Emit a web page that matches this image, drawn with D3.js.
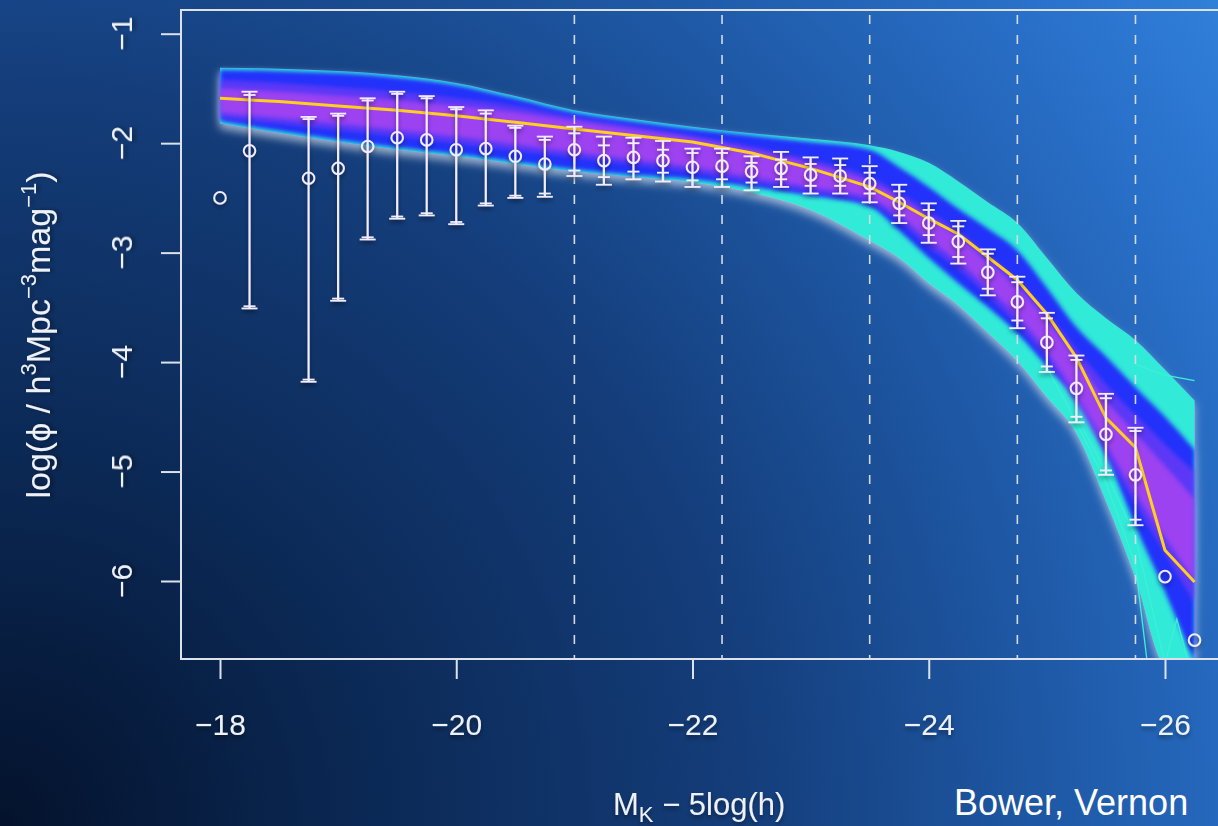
<!DOCTYPE html>
<html><head><meta charset="utf-8">
<script src="https://cdn.jsdelivr.net/npm/d3@7"></script>
<style>html,body{margin:0;padding:0;background:#0b2a58;overflow:hidden}</style>
</head><body><svg id="c" width="1218" height="826"></svg>
<script>
// ---- tick labels / reference lines ----
const xTicks = [-18, -20, -22, -24, -26];
const yTicks = [-1, -2, -3, -4, -5, -6];
const dashedX = [-21, -22.25, -23.5, -24.75, -25.75];

// ---- model ensemble envelope (log phi) ----
const modelX   = [-18,-18.5,-19,-19.5,-20,-20.5,-21,-21.5,-22,-22.5,-23,-23.5,-23.75,-24,-24.25,-24.5,-24.75,-25,-25.25,-25.5,-25.75,-26,-26.25];
const outerHi  = [-1.31,-1.32,-1.34,-1.38,-1.45,-1.57,-1.70,-1.78,-1.85,-1.91,-1.96,-2.02,-2.08,-2.18,-2.35,-2.54,-2.73,-3.05,-3.37,-3.60,-3.80,-4.07,-4.35];
const blueHi   = [-1.33,-1.34,-1.36,-1.40,-1.47,-1.59,-1.72,-1.80,-1.87,-1.93,-1.99,-2.06,-2.22,-2.40,-2.60,-2.78,-2.98,-3.32,-3.68,-3.95,-4.23,-4.50,-4.80];
const magHi    = [-1.42,-1.45,-1.49,-1.53,-1.59,-1.66,-1.76,-1.84,-1.93,-2.03,-2.15,-2.31,-2.45,-2.62,-2.80,-3.02,-3.25,-3.55,-3.88,-4.20,-4.48,-4.75,-5.00];
const coreHi   = [-1.50,-1.53,-1.57,-1.61,-1.66,-1.72,-1.80,-1.88,-1.96,-2.07,-2.19,-2.36,-2.50,-2.68,-2.86,-3.08,-3.32,-3.62,-3.98,-4.35,-4.65,-4.95,-5.25];
const coreLo   = [-1.72,-1.77,-1.82,-1.88,-1.94,-2.01,-2.08,-2.15,-2.22,-2.31,-2.40,-2.50,-2.66,-2.88,-3.08,-3.32,-3.58,-3.90,-4.30,-4.75,-5.20,-5.60,-6.00];
const magLo    = [-1.77,-1.82,-1.88,-1.94,-2.00,-2.07,-2.13,-2.20,-2.27,-2.36,-2.45,-2.55,-2.72,-2.95,-3.15,-3.40,-3.66,-3.98,-4.40,-4.85,-5.30,-5.75,-6.20];
const blueLo   = [-1.80,-1.89,-1.97,-2.04,-2.10,-2.17,-2.24,-2.29,-2.33,-2.40,-2.48,-2.58,-2.80,-3.05,-3.28,-3.50,-3.74,-4.04,-4.35,-4.85,-5.50,-6.10,-6.75];
const outerLo  = [-1.82,-1.91,-1.99,-2.06,-2.12,-2.19,-2.26,-2.31,-2.36,-2.45,-2.61,-2.89,-3.05,-3.28,-3.48,-3.73,-3.99,-4.32,-4.65,-5.27,-5.97,-6.75,-6.75];
const bestFit  = [-1.59,-1.62,-1.66,-1.70,-1.75,-1.81,-1.87,-1.93,-1.99,-2.09,-2.23,-2.40,-2.54,-2.69,-2.83,-3.04,-3.25,-3.56,-3.96,-4.51,-4.78,-5.72,-6.01];

// thin stray model runs at the faint end
const strandAX = [-25.0,-25.25,-25.5,-25.75,-25.85];
const strandAY = [-4.05,-4.55,-5.10,-5.85,-6.75];
const strandBX = [-25.25,-25.5,-25.75,-26.0,-26.1,-26.2];
const strandBY = [-4.50,-5.00,-5.60,-6.75,-6.35,-6.75];
const strandCX = [-25.75,-26.0,-26.25];
const strandCY = [-4.02,-4.12,-4.17];

// ---- observed luminosity function ----
const obsX = [-18,-18.25,-18.75,-19,-19.25,-19.5,-19.75,-20,-20.25,-20.5,-20.75,-21,-21.25,-21.5,-21.75,-22,-22.25,-22.5,-22.75,-23,-23.25,-23.5,-23.75,-24,-24.25,-24.5,-24.75,-25,-25.25,-25.5,-25.75,-26,-26.25];
const obsY = [-2.50,-2.07,-2.32,-2.23,-2.03,-1.95,-1.97,-2.06,-2.05,-2.12,-2.19,-2.06,-2.16,-2.13,-2.16,-2.22,-2.21,-2.26,-2.23,-2.29,-2.30,-2.37,-2.55,-2.73,-2.90,-3.18,-3.45,-3.82,-4.24,-4.66,-5.03,-5.96,-6.54];
const errTopOuter = [null,-1.53,-1.76,-1.73,-1.59,-1.53,-1.57,-1.67,-1.70,-1.84,-1.94,-1.85,-1.94,-1.95,-1.98,-2.05,-2.05,-2.12,-2.08,-2.13,-2.14,-2.21,-2.38,-2.55,-2.71,-2.97,-3.22,-3.55,-3.94,-4.29,-4.60,null,null];
const errTopInner = [null,-1.56,-1.78,-1.75,-1.61,-1.55,-1.59,-1.69,-1.73,-1.86,-1.97,-1.91,-2.02,-2.00,-2.06,-2.09,-2.09,-2.18,-2.15,-2.19,-2.20,-2.27,-2.44,-2.61,-2.76,-3.01,-3.27,-3.60,-3.98,-4.33,-4.63,null,null];
const errBotInner = [null,-3.49,-4.16,-3.42,-2.86,-2.67,-2.64,-2.72,-2.55,-2.48,-2.46,-2.25,-2.31,-2.26,-2.27,-2.34,-2.33,-2.36,-2.33,-2.39,-2.39,-2.46,-2.66,-2.84,-3.04,-3.33,-3.62,-4.04,-4.50,-4.99,-5.44,null,null];
const errBotOuter = [null,-3.51,-4.18,-3.44,-2.88,-2.69,-2.66,-2.74,-2.57,-2.50,-2.49,-2.30,-2.38,-2.33,-2.35,-2.40,-2.40,-2.43,-2.40,-2.46,-2.46,-2.54,-2.73,-2.91,-3.10,-3.39,-3.69,-4.09,-4.55,-5.03,-5.49,null,null];

// ---- layout ----
const W = 1218, H = 826;
const box = {left: 181, top: 10, right: 1240, bottom: 659};
const x = d3.scaleLinear().domain([-18, -26]).range([220, 1165]);
const y = d3.scaleLinear().domain([-1, -6]).range([33.7, 581]);
const FONT = "'Liberation Sans', Arial, Helvetica, sans-serif";
const TXT = "#eef2f8";

const svg = d3.select("#c");
const defs = svg.append("defs");

const bg = defs.append("radialGradient").attr("id","bg").attr("gradientUnits","userSpaceOnUse")
  .attr("cx",0).attr("cy",H).attr("r",1480);
[[0,"#04122c"],[0.22,"#0a2650"],[0.5,"#143d7a"],[0.72,"#1f5aa8"],[0.9,"#2a72cc"],[1,"#3080da"]]
  .forEach(([o,c]) => bg.append("stop").attr("offset",o).attr("stop-color",c));

const glow = defs.append("filter").attr("id","glow").attr("x","-5%").attr("y","-10%").attr("width","110%").attr("height","130%");
glow.append("feGaussianBlur").attr("in","SourceAlpha").attr("stdDeviation",4).attr("result","b");
glow.append("feOffset").attr("in","b").attr("dy",5).attr("result","o");
glow.append("feFlood").attr("flood-color","#e4ecf4").attr("flood-opacity",0.65).attr("result","f");
glow.append("feComposite").attr("in","f").attr("in2","o").attr("operator","in").attr("result","s");
const gm = glow.append("feMerge"); gm.append("feMergeNode").attr("in","s"); gm.append("feMergeNode").attr("in","SourceGraphic");

const soft = defs.append("filter").attr("id","soft").attr("x","-5%").attr("y","-10%").attr("width","110%").attr("height","120%");
soft.append("feGaussianBlur").attr("stdDeviation",2);

const shadow = defs.append("filter").attr("id","shadow").attr("x","-20%").attr("y","-20%").attr("width","140%").attr("height","140%");
shadow.append("feDropShadow").attr("dx",0).attr("dy",3).attr("stdDeviation",2.2).attr("flood-color","#000").attr("flood-opacity",0.4);

defs.append("clipPath").attr("id","plotclip").append("rect")
  .attr("x",box.left+1).attr("y",box.top+1).attr("width",box.right-box.left).attr("height",box.bottom-box.top-2);

svg.append("rect").attr("width",W).attr("height",H).attr("fill","url(#bg)");

// ---- model band ----
const idx = d3.range(modelX.length);
const band = (lo, hi) => d3.area().x(i => x(modelX[i])).y0(i => y(lo[i])).y1(i => y(hi[i])).curve(d3.curveMonotoneX)(idx);
const gBand = svg.append("g").attr("clip-path","url(#plotclip)");
const gB = gBand.append("g").attr("filter","url(#glow)");
gB.append("path").attr("d", band(outerLo, outerHi)).attr("fill","#30ead8");
gB.append("path").attr("d", band(blueLo, blueHi)).attr("fill","#2430fa").attr("filter","url(#soft)");
gB.append("path").attr("d", band(magLo, magHi)).attr("fill","#8a3cf4").attr("opacity",0.55).attr("filter","url(#soft)");
gB.append("path").attr("d", band(coreLo, coreHi)).attr("fill","#c848ee").attr("opacity",0.6).attr("filter","url(#soft)");
const line = d3.line().x(d => x(d[0])).y(d => y(d[1]));
[[strandAX,strandAY],[strandBX,strandBY],[strandCX,strandCY]].forEach(([sx,sy]) =>
  gBand.append("path").attr("d", line(sx.map((v,i)=>[v,sy[i]]))).attr("fill","none")
    .attr("stroke","#3ef0d8").attr("stroke-width",1.3));
gBand.append("path").attr("d", line(modelX.map((v,i)=>[v,bestFit[i]])))
  .attr("fill","none").attr("stroke","#ffcf1e").attr("stroke-width",3).attr("stroke-linejoin","round");

// ---- dashed reference lines ----
svg.append("g").selectAll("line").data(dashedX).join("line")
  .attr("x1", d => x(d)).attr("x2", d => x(d)).attr("y1", box.top+2).attr("y2", box.bottom)
  .attr("stroke","#d4dae4").attr("stroke-width",1.6).attr("stroke-dasharray","9,11").attr("stroke-dashoffset",-3);

// ---- frame ----
svg.append("path").attr("d", `M${box.right},${box.top}H${box.left}V${box.bottom}H${box.right}`)
  .attr("fill","none").attr("stroke","#dde2ea").attr("stroke-width",2);

// ---- axes ----
const ax = svg.append("g").attr("transform",`translate(0,${box.bottom})`)
  .call(d3.axisBottom(x).tickValues(xTicks).tickSize(20).tickPadding(35).tickFormat(d3.format("d")));
const ay = svg.append("g").attr("transform",`translate(${box.left},0)`)
  .call(d3.axisLeft(y).tickValues(yTicks).tickSize(20).tickFormat(""));
[ax, ay].forEach(g => { g.select(".domain").remove(); g.selectAll(".tick line").attr("stroke","#dde2ea").attr("stroke-width",2); });
ax.selectAll(".tick text").attr("fill",TXT).attr("font-family",FONT).attr("font-size",30).attr("filter","url(#shadow)");

svg.append("g").selectAll("text").data(yTicks).join("text")
  .attr("transform", d => `translate(132,${y(d)}) rotate(-90)`)
  .attr("text-anchor","middle").attr("fill",TXT).attr("font-family",FONT).attr("font-size",30)
  .attr("filter","url(#shadow)").text(d3.format("d"));

// ---- observations ----
const gO = svg.append("g").attr("filter","url(#shadow)");
const obsIdx = d3.range(obsX.length);
const withBars = obsIdx.filter(i => errTopOuter[i] !== null);
const oc = "#f2ecff";
gO.selectAll("line.v").data(withBars).join("line").attr("class","v")
  .attr("x1", i => x(obsX[i])).attr("x2", i => x(obsX[i]))
  .attr("y1", i => y(errTopOuter[i])).attr("y2", i => y(errBotOuter[i]))
  .attr("stroke",oc).attr("stroke-width",2.2);
const caps = [[errTopOuter,8],[errTopInner,6],[errBotInner,6],[errBotOuter,8]];
caps.forEach(([arr,hw],k) => gO.selectAll("line.c"+k).data(withBars).join("line").attr("class","c"+k)
  .attr("x1", i => x(obsX[i]) - hw).attr("x2", i => x(obsX[i]) + hw)
  .attr("y1", i => y(arr[i])).attr("y2", i => y(arr[i]))
  .attr("stroke",oc).attr("stroke-width",1.8));
gO.selectAll("circle").data(obsIdx).join("circle")
  .attr("cx", i => x(obsX[i])).attr("cy", i => y(obsY[i])).attr("r",5.8)
  .attr("fill","none").attr("stroke",oc).attr("stroke-width",2);

// ---- axis titles ----
const yl = svg.append("text").attr("transform","translate(50,335) rotate(-90)")
  .attr("text-anchor","middle").attr("fill",TXT).attr("font-family",FONT).attr("font-size",34).attr("filter","url(#shadow)");
yl.append("tspan").text("log(ϕ / h");
yl.append("tspan").attr("font-size",22).attr("dy",-14).text("3");
yl.append("tspan").attr("dy",14).text("Mpc");
yl.append("tspan").attr("font-size",22).attr("dy",-14).text("−3");
yl.append("tspan").attr("dy",14).text("mag");
yl.append("tspan").attr("font-size",22).attr("dy",-14).text("−1");
yl.append("tspan").attr("dy",14).text(")");

const xl = svg.append("text").attr("x",613).attr("y",815)
  .attr("fill",TXT).attr("font-family",FONT).attr("font-size",31).attr("filter","url(#shadow)");
xl.append("tspan").text("M");
xl.append("tspan").attr("font-size",22).attr("dy",7).text("K");
xl.append("tspan").attr("dy",-7).text(" − 5log(h)");

svg.append("text").attr("x",954).attr("y",815).attr("fill","#ffffff").attr("font-family",FONT)
  .attr("font-size",36).text("Bower, Vernon");
</script></body></html>
